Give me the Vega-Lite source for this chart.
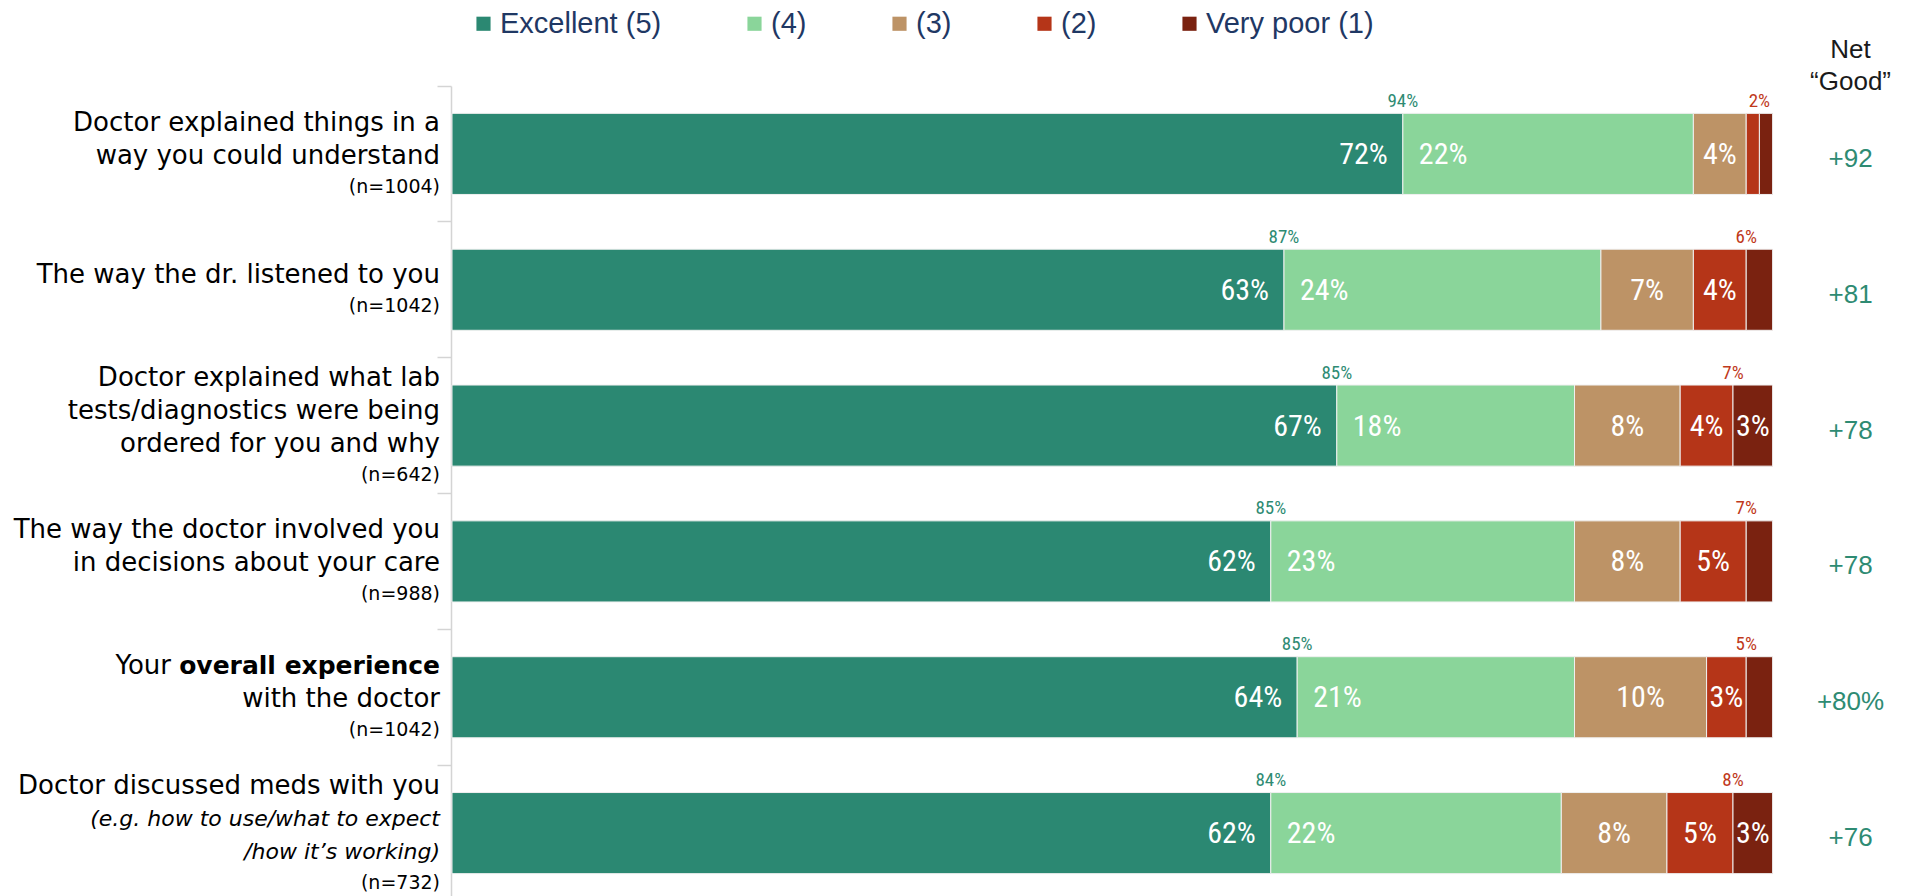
{
  "$schema": "https://vega.github.io/schema/vega-lite/v6.json",
  "autosize": "none",
  "width": 1454,
  "height": 815,
  "padding": {"left": 452, "top": 86, "right": 0, "bottom": 0},
  "background": "white",
  "config": {"view": {"stroke": null}},
  "datasets": {
    "bars": [
      {"q": "q1", "rating": "Excellent (5)", "rank": 5, "pct": 72},
      {"q": "q1", "rating": "(4)", "rank": 4, "pct": 22},
      {"q": "q1", "rating": "(3)", "rank": 3, "pct": 4},
      {"q": "q1", "rating": "(2)", "rank": 2, "pct": 1},
      {"q": "q1", "rating": "Very poor (1)", "rank": 1, "pct": 1},
      {"q": "q2", "rating": "Excellent (5)", "rank": 5, "pct": 63},
      {"q": "q2", "rating": "(4)", "rank": 4, "pct": 24},
      {"q": "q2", "rating": "(3)", "rank": 3, "pct": 7},
      {"q": "q2", "rating": "(2)", "rank": 2, "pct": 4},
      {"q": "q2", "rating": "Very poor (1)", "rank": 1, "pct": 2},
      {"q": "q3", "rating": "Excellent (5)", "rank": 5, "pct": 67},
      {"q": "q3", "rating": "(4)", "rank": 4, "pct": 18},
      {"q": "q3", "rating": "(3)", "rank": 3, "pct": 8},
      {"q": "q3", "rating": "(2)", "rank": 2, "pct": 4},
      {"q": "q3", "rating": "Very poor (1)", "rank": 1, "pct": 3},
      {"q": "q4", "rating": "Excellent (5)", "rank": 5, "pct": 62},
      {"q": "q4", "rating": "(4)", "rank": 4, "pct": 23},
      {"q": "q4", "rating": "(3)", "rank": 3, "pct": 8},
      {"q": "q4", "rating": "(2)", "rank": 2, "pct": 5},
      {"q": "q4", "rating": "Very poor (1)", "rank": 1, "pct": 2},
      {"q": "q5", "rating": "Excellent (5)", "rank": 5, "pct": 64},
      {"q": "q5", "rating": "(4)", "rank": 4, "pct": 21},
      {"q": "q5", "rating": "(3)", "rank": 3, "pct": 10},
      {"q": "q5", "rating": "(2)", "rank": 2, "pct": 3},
      {"q": "q5", "rating": "Very poor (1)", "rank": 1, "pct": 2},
      {"q": "q6", "rating": "Excellent (5)", "rank": 5, "pct": 62},
      {"q": "q6", "rating": "(4)", "rank": 4, "pct": 22},
      {"q": "q6", "rating": "(3)", "rank": 3, "pct": 8},
      {"q": "q6", "rating": "(2)", "rank": 2, "pct": 5},
      {"q": "q6", "rating": "Very poor (1)", "rank": 1, "pct": 3}
    ],
    "summary": [
      {"q": "q1", "excellent": 72, "veryPoor": 1, "top2": "94%", "bottom2": "2%", "net": "+92"},
      {"q": "q2", "excellent": 63, "veryPoor": 2, "top2": "87%", "bottom2": "6%", "net": "+81"},
      {"q": "q3", "excellent": 67, "veryPoor": 3, "top2": "85%", "bottom2": "7%", "net": "+78"},
      {"q": "q4", "excellent": 62, "veryPoor": 2, "top2": "85%", "bottom2": "7%", "net": "+78"},
      {"q": "q5", "excellent": 64, "veryPoor": 2, "top2": "85%", "bottom2": "5%", "net": "+80%"},
      {"q": "q6", "excellent": 62, "veryPoor": 3, "top2": "84%", "bottom2": "8%", "net": "+76"}
    ],
    "labels": [
      {"q": "q1", "line": 1, "kind": "main", "text": "Doctor explained things in a"},
      {"q": "q1", "line": 2, "kind": "main", "text": "way you could understand"},
      {"q": "q1", "line": 3, "kind": "n", "text": "(n=1004)"},
      {"q": "q2", "line": 1, "kind": "main", "text": "The way the dr. listened to you"},
      {"q": "q2", "line": 2, "kind": "n", "text": "(n=1042)"},
      {"q": "q3", "line": 1, "kind": "main", "text": "Doctor explained what lab"},
      {"q": "q3", "line": 2, "kind": "main", "text": "tests/diagnostics were being"},
      {"q": "q3", "line": 3, "kind": "main", "text": "ordered for you and why"},
      {"q": "q3", "line": 4, "kind": "n", "text": "(n=642)"},
      {"q": "q4", "line": 1, "kind": "main", "text": "The way the doctor involved you"},
      {"q": "q4", "line": 2, "kind": "main", "text": "in decisions about your care"},
      {"q": "q4", "line": 3, "kind": "n", "text": "(n=988)"},
      {"q": "q5", "line": 1, "kind": "lead", "text": "Your"},
      {"q": "q5", "line": 1, "kind": "bold", "text": "overall experience"},
      {"q": "q5", "line": 2, "kind": "main", "text": "with the doctor"},
      {"q": "q5", "line": 3, "kind": "n", "text": "(n=1042)"},
      {"q": "q6", "line": 1, "kind": "main", "text": "Doctor discussed meds with you"},
      {"q": "q6", "line": 2, "kind": "italic", "text": "(e.g. how to use/what to expect"},
      {"q": "q6", "line": 3, "kind": "italic", "text": "/how it’s working)"},
      {"q": "q6", "line": 4, "kind": "n", "text": "(n=732)"}
    ],
    "header": [
      {"q": "q1", "h": ["Net", "“Good”"]}
    ]
  },
  "resolve": {"scale": {"yOffset": "independent"}},
  "encoding": {
    "y": {
      "field": "q",
      "type": "nominal",
      "scale": {"domain": ["q1", "q2", "q3", "q4", "q5", "q6"], "paddingInner": 0, "paddingOuter": 0},
      "axis": {"labels": false, "title": null, "domainColor": "#d4d4d4", "domainWidth": 1.5, "tickColor": "#d4d4d4", "tickWidth": 1.5, "tickSize": 14, "bandPosition": 0, "offset": 1}
    }
  },
  "layer": [
    {
      "data": {"name": "bars"},
      "transform": [
        {"stack": "pct", "groupby": ["q"], "sort": [{"field": "rank", "order": "descending"}], "as": ["x0", "x1"]}
      ],
      "mark": {"type": "bar", "height": {"band": 0.597}, "stroke": "#f0f0f0", "strokeWidth": 1},
      "encoding": {
        "x": {"field": "x0", "type": "quantitative", "scale": {"domain": [0, 110.1], "nice": false, "zero": false}, "axis": null},
        "x2": {"field": "x1"},
        "color": {
          "field": "rating",
          "type": "nominal",
          "scale": {
            "domain": ["Excellent (5)", "(4)", "(3)", "(2)", "Very poor (1)"],
            "range": ["#2b8872", "#8ad59a", "#bd9366", "#b53518", "#7a2210"]
          },
          "legend": {
            "orient": "none",
            "legendX": 17,
            "legendY": -77,
            "direction": "horizontal",
            "columns": 5,
            "title": null,
            "symbolType": "square",
            "symbolSize": 200,
            "symbolStrokeWidth": 0,
            "labelFont": "Liberation Sans",
            "labelFontSize": 29,
            "labelColor": "#1f3864",
            "labelOffset": 2,
            "columnPadding": 78,
            "padding": 0,
            "labelLimit": 400
          }
        }
      }
    },
    {
      "data": {"name": "bars"},
      "transform": [
        {"stack": "pct", "groupby": ["q"], "sort": [{"field": "rank", "order": "descending"}], "as": ["x0", "x1"]},
        {"calculate": "datum.pct + '%'", "as": "lbl"},
        {"filter": "datum.rank == 5"}
      ],
      "mark": {"type": "text", "align": "right", "baseline": "middle", "dx": -15, "dy": 1, "font": "Roboto Condensed, Roboto", "fontSize": 30, "color": "white"},
      "encoding": {
        "x": {"field": "x1", "type": "quantitative", "axis": null},
        "text": {"field": "lbl"}
      }
    },
    {
      "data": {"name": "bars"},
      "transform": [
        {"stack": "pct", "groupby": ["q"], "sort": [{"field": "rank", "order": "descending"}], "as": ["x0", "x1"]},
        {"calculate": "datum.pct + '%'", "as": "lbl"},
        {"filter": "datum.rank == 4"}
      ],
      "mark": {"type": "text", "align": "left", "baseline": "middle", "dx": 16, "dy": 1, "font": "Roboto Condensed, Roboto", "fontSize": 30, "color": "white"},
      "encoding": {
        "x": {"field": "x0", "type": "quantitative", "axis": null},
        "text": {"field": "lbl"}
      }
    },
    {
      "data": {"name": "bars"},
      "transform": [
        {"stack": "pct", "groupby": ["q"], "sort": [{"field": "rank", "order": "descending"}], "as": ["x0", "x1"]},
        {"calculate": "datum.pct + '%'", "as": "lbl"},
        {"calculate": "(datum.x0 + datum.x1) / 2", "as": "xm"},
        {"filter": "datum.rank <= 3 && datum.pct >= 3"}
      ],
      "mark": {"type": "text", "align": "center", "baseline": "middle", "dy": 1, "font": "Roboto Condensed, Roboto", "fontSize": 30, "color": "white"},
      "encoding": {
        "x": {"field": "xm", "type": "quantitative", "axis": null},
        "text": {"field": "lbl"}
      }
    },
    {
      "data": {"name": "summary"},
      "mark": {"type": "text", "align": "center", "baseline": "alphabetic", "dy": -47, "font": "Roboto Condensed, Roboto", "fontSize": 19, "color": "#2e8b73"},
      "encoding": {
        "x": {"field": "excellent", "type": "quantitative", "axis": null},
        "text": {"field": "top2"}
      }
    },
    {
      "data": {"name": "summary"},
      "transform": [{"calculate": "100 - datum.veryPoor", "as": "redX"}],
      "mark": {"type": "text", "align": "center", "baseline": "alphabetic", "dy": -47, "font": "Roboto Condensed, Roboto", "fontSize": 19, "color": "#c0391b"},
      "encoding": {
        "x": {"field": "redX", "type": "quantitative", "axis": null},
        "text": {"field": "bottom2"}
      }
    },
    {
      "data": {"name": "summary"},
      "mark": {"type": "text", "align": "center", "baseline": "middle", "dy": 5, "font": "Liberation Sans", "fontSize": 26, "color": "#2e8b73"},
      "encoding": {
        "x": {"datum": 105.9, "type": "quantitative", "axis": null},
        "text": {"field": "net"}
      }
    },
    {
      "data": {"name": "header"},
      "mark": {"type": "text", "align": "center", "baseline": "middle", "dy": -104, "lineHeight": 32, "font": "Liberation Sans", "fontSize": 26, "color": "#1a1a1a"},
      "encoding": {
        "x": {"datum": 105.9, "type": "quantitative", "axis": null},
        "text": {"field": "h"}
      }
    },
    {
      "data": {"name": "labels"},
      "transform": [
        {"joinaggregate": [{"op": "max", "field": "line", "as": "nl"}], "groupby": ["q"]},
        {"calculate": "datum.line - (datum.nl + 1) / 2", "as": "off"},
        {"filter": "datum.kind == 'main'"}
      ],
      "mark": {"type": "text", "align": "right", "baseline": "middle", "dx": -12, "font": "DejaVu Sans", "fontSize": 26, "color": "#000000"},
      "encoding": {
        "x": {"datum": 0, "type": "quantitative", "axis": null},
        "yOffset": {"field": "off", "type": "quantitative", "scale": {"domain": [-1.5, 1.5], "range": [20.4, 119.4], "nice": false, "zero": false}},
        "text": {"field": "text"}
      }
    },
    {
      "data": {"name": "labels"},
      "transform": [
        {"joinaggregate": [{"op": "max", "field": "line", "as": "nl"}], "groupby": ["q"]},
        {"calculate": "datum.line - (datum.nl + 1) / 2", "as": "off"},
        {"filter": "datum.kind == 'n'"}
      ],
      "mark": {"type": "text", "align": "right", "baseline": "middle", "dx": -12, "font": "DejaVu Sans", "fontSize": 19, "color": "#000000"},
      "encoding": {
        "x": {"datum": 0, "type": "quantitative", "axis": null},
        "yOffset": {"field": "off", "type": "quantitative", "scale": {"domain": [-1.5, 1.5], "range": [18.4, 117.4], "nice": false, "zero": false}},
        "text": {"field": "text"}
      }
    },
    {
      "data": {"name": "labels"},
      "transform": [
        {"joinaggregate": [{"op": "max", "field": "line", "as": "nl"}], "groupby": ["q"]},
        {"calculate": "datum.line - (datum.nl + 1) / 2", "as": "off"},
        {"filter": "datum.kind == 'bold'"}
      ],
      "mark": {"type": "text", "align": "right", "baseline": "middle", "dx": -12, "font": "DejaVu Sans", "fontSize": 25, "fontWeight": "bold", "color": "#000000"},
      "encoding": {
        "x": {"datum": 0, "type": "quantitative", "axis": null},
        "yOffset": {"field": "off", "type": "quantitative", "scale": {"domain": [-1.5, 1.5], "range": [20.4, 119.4], "nice": false, "zero": false}},
        "text": {"field": "text"}
      }
    },
    {
      "data": {"name": "labels"},
      "transform": [
        {"joinaggregate": [{"op": "max", "field": "line", "as": "nl"}], "groupby": ["q"]},
        {"calculate": "datum.line - (datum.nl + 1) / 2", "as": "off"},
        {"filter": "datum.kind == 'lead'"}
      ],
      "mark": {"type": "text", "align": "right", "baseline": "middle", "dx": -281, "font": "DejaVu Sans", "fontSize": 26, "color": "#000000"},
      "encoding": {
        "x": {"datum": 0, "type": "quantitative", "axis": null},
        "yOffset": {"field": "off", "type": "quantitative", "scale": {"domain": [-1.5, 1.5], "range": [20.4, 119.4], "nice": false, "zero": false}},
        "text": {"field": "text"}
      }
    },
    {
      "data": {"name": "labels"},
      "transform": [
        {"joinaggregate": [{"op": "max", "field": "line", "as": "nl"}], "groupby": ["q"]},
        {"calculate": "datum.line - (datum.nl + 1) / 2", "as": "off"},
        {"filter": "datum.kind == 'italic'"}
      ],
      "mark": {"type": "text", "align": "right", "baseline": "middle", "dx": -12, "font": "DejaVu Sans", "fontSize": 22, "fontStyle": "italic", "color": "#000000"},
      "encoding": {
        "x": {"datum": 0, "type": "quantitative", "axis": null},
        "yOffset": {"field": "off", "type": "quantitative", "scale": {"domain": [-1.5, 1.5], "range": [20.4, 119.4], "nice": false, "zero": false}},
        "text": {"field": "text"}
      }
    }
  ]
}
